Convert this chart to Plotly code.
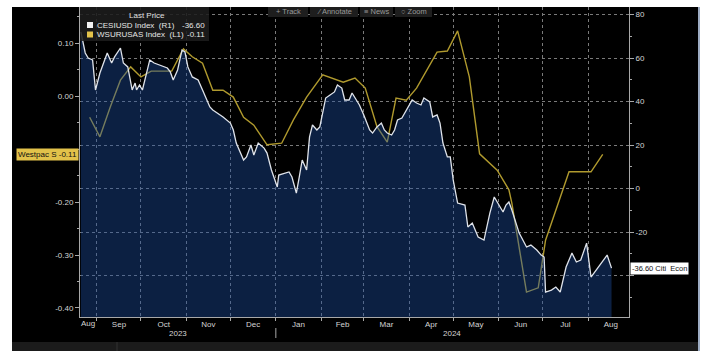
import plotly.graph_objects as go
import pandas as pd

# ---------------- data ----------------
cesi_dates = [
    "2023-08-21", "2023-08-24", "2023-08-26", "2023-08-29", "2023-08-31", "2023-09-03",
    "2023-09-08", "2023-09-11", "2023-09-13", "2023-09-17", "2023-09-19", "2023-09-22",
    "2023-09-25", "2023-09-27", "2023-09-28", "2023-09-30", "2023-10-02", "2023-10-07",
    "2023-10-10", "2023-10-14", "2023-10-19", "2023-10-21", "2023-10-23", "2023-10-26",
    "2023-10-29", "2023-10-31", "2023-11-02", "2023-11-05", "2023-11-09", "2023-11-12",
    "2023-11-15", "2023-11-17", "2023-11-19", "2023-11-22", "2023-11-26", "2023-12-01",
    "2023-12-03", "2023-12-05", "2023-12-08", "2023-12-10", "2023-12-12", "2023-12-15",
    "2023-12-17", "2023-12-20", "2023-12-24", "2023-12-26", "2023-12-29", "2024-01-02",
    "2024-01-03", "2024-01-07", "2024-01-10", "2024-01-12", "2024-01-15", "2024-01-17",
    "2024-01-19", "2024-01-22", "2024-01-24", "2024-01-26", "2024-01-29", "2024-01-31",
    "2024-02-04", "2024-02-07", "2024-02-10", "2024-02-12", "2024-02-15", "2024-02-17",
    "2024-02-20", "2024-02-22", "2024-02-25", "2024-02-27", "2024-03-01", "2024-03-05",
    "2024-03-07", "2024-03-10", "2024-03-13", "2024-03-15", "2024-03-17", "2024-03-20",
    "2024-03-22", "2024-03-24", "2024-03-27", "2024-03-31", "2024-04-03", "2024-04-06",
    "2024-04-09", "2024-04-11", "2024-04-15", "2024-04-17", "2024-04-20", "2024-04-22",
    "2024-04-24", "2024-04-27", "2024-04-29", "2024-05-01", "2024-05-04", "2024-05-09",
    "2024-05-11", "2024-05-14", "2024-05-18", "2024-05-22", "2024-05-26", "2024-05-29",
    "2024-06-02", "2024-06-04", "2024-06-06", "2024-06-08", "2024-06-10", "2024-06-15",
    "2024-06-20", "2024-06-23", "2024-06-27", "2024-06-30", "2024-07-02", "2024-07-03",
    "2024-07-07", "2024-07-10", "2024-07-13", "2024-07-17", "2024-07-21", "2024-07-24",
    "2024-07-27", "2024-07-31", "2024-08-03", "2024-08-07", "2024-08-11", "2024-08-14",
    "2024-08-17",
]
cesi_values = [
    72.0, 62.3, 60.0, 59.1, 45.3, 53.1,
    62.3, 57.7, 60.5, 64.6, 57.7, 55.9,
    45.3, 48.5, 45.3, 47.6, 45.3, 59.1,
    57.7, 56.8, 55.4, 53.6, 49.9, 54.5,
    63.7, 62.8, 55.9, 51.3, 49.9, 45.3,
    40.7, 37.5, 36.1, 34.7, 32.9, 30.1,
    26.9, 20.9, 16.3, 13.1, 14.5, 20.0,
    15.4, 20.9, 18.6, 16.3, 8.5, 0.7,
    6.2, 7.1, 7.6, 5.3, -2.1, 5.3,
    13.1, 8.5, 23.7, 29.2, 26.9, 28.3,
    41.6, 43.0, 44.4, 47.6, 46.2, 40.7,
    40.7, 43.9, 40.7, 38.4, 33.8, 26.9,
    25.5, 28.3, 30.1, 26.9, 25.5, 24.6,
    26.9, 31.5, 32.4, 37.5, 40.7, 39.3,
    38.4, 41.6, 39.8, 32.9, 33.8, 30.1,
    20.9, 14.5, 14.5, 3.9, -6.7, -7.6,
    -17.7, -15.9, -22.3, -23.7, -11.3, -3.9,
    -8.5, -10.8, -7.6, -6.2, -9.9, -20.5,
    -26.9, -26.0, -28.3, -30.6, -31.5, -47.6,
    -46.7, -45.3, -47.6, -36.1, -29.7, -33.8,
    -32.9, -25.1, -40.7, -37.0, -33.8, -30.6,
    -36.6,
]

wsur_dates = [
    "2023-08-27", "2023-09-03", "2023-09-10", "2023-09-17", "2023-09-24", "2023-10-01",
    "2023-10-08", "2023-10-22", "2023-10-30", "2023-11-05", "2023-11-12", "2023-11-19",
    "2023-11-26", "2023-12-03", "2023-12-10", "2023-12-17", "2023-12-26", "2024-01-05",
    "2024-01-13", "2024-01-22", "2024-02-02", "2024-02-12", "2024-02-16", "2024-02-24",
    "2024-03-02", "2024-03-10", "2024-03-17", "2024-03-23", "2024-03-30", "2024-04-06",
    "2024-04-20", "2024-04-27", "2024-05-04", "2024-05-12", "2024-05-19", "2024-05-31",
    "2024-06-08", "2024-06-10", "2024-06-20", "2024-06-28", "2024-07-03", "2024-07-19",
    "2024-08-03", "2024-08-11",
]
wsur_values = [
    -0.040, -0.077, -0.021, 0.030, 0.055, 0.036,
    0.047, 0.047, 0.089, 0.074, 0.062, 0.011,
    0.011, -0.002, -0.040, -0.055, -0.092, -0.089,
    -0.045, -0.002, 0.040, 0.030, 0.026, 0.034,
    0.015, -0.058, -0.087, -0.004, -0.008, 0.015,
    0.083, 0.085, 0.123, 0.036, -0.109, -0.140,
    -0.177, -0.202, -0.370, -0.362, -0.272, -0.143,
    -0.143, -0.110,
]

cesi_name = "CESIUSD Index"
wsur_name = "WSURUSAS Index"
cesi_tag = "Citi\u00a0\u00a0Econ"
wsur_tag = "Westpac S"

left_ticks = [0.10, 0.00, -0.10, -0.20, -0.30, -0.40]
left_labels = ["0.10", "0.00", "", "-0.20", "-0.30", "-0.40"]   # -0.10 sits under the tag
right_ticks = [80, 60, 40, 20, 0, -20, -40]
right_labels = ["80", "60", "40", "20", "0", "-20", ""]          # -40 sits under the tag

x_range = ["2023-08-20 10:00", "2024-08-28 22:00"]
left_range = [-0.417, 0.168]
right_range = [-59.08, 83.45]

# ---------------- styling ----------------
FONT = "Liberation Sans"
TXT = "#d4d4d4"
GRID = "#7a7a7a"
AXIS = "#a8a8a8"
YELLOW_LINE = "#b09a2e"
YELLOW_BOX = "#e2c24a"
NB = "\u00a0"

fig = go.Figure()

# baseline at the bottom of the right axis, so the area fill reaches the floor
fig.add_trace(go.Scatter(
    x=cesi_dates, y=[right_range[0]] * len(cesi_dates), yaxis="y2",
    mode="lines", line=dict(width=0, color="rgba(0,0,0,0)"),
    hoverinfo="skip", showlegend=False,
))
fig.add_trace(go.Scatter(
    x=cesi_dates, y=cesi_values, yaxis="y2", name=cesi_name,
    mode="lines", line=dict(color="#dfe3ea", width=1.3),
    fill="tonexty", fillcolor="rgba(30,80,165,0.40)", showlegend=False,
))
fig.add_trace(go.Scatter(
    x=wsur_dates, y=wsur_values, yaxis="y", name=wsur_name,
    mode="lines", line=dict(color=YELLOW_LINE, width=1.4), showlegend=False,
))

fig.update_layout(
    width=711, height=355,
    margin=dict(l=80, r=82, t=7, b=38),
    paper_bgcolor="white", plot_bgcolor="black",
    font=dict(family=FONT, size=8, color=TXT),
    showlegend=False,
    xaxis=dict(
        type="date", range=x_range, dtick="M1", tick0="2023-08-01",
        ticklabelmode="period", tickformat="%b", ticklabelstandoff=-4,
        showgrid=True, gridcolor=GRID, griddash="dot", gridwidth=1,
        ticks="outside", ticklen=3, tickcolor=AXIS,
        showline=True, linecolor=AXIS, linewidth=1,
        tickfont=dict(size=8, color=TXT), zeroline=False,
    ),
    yaxis=dict(
        range=left_range, tickmode="array", tickvals=left_ticks, ticktext=left_labels,
        side="left", showgrid=False, zeroline=False,
        ticks="outside", ticklen=4, tickcolor=AXIS,
        showline=True, linecolor=AXIS, linewidth=1,
        minor=dict(ticks="outside", dtick=0.05, tick0=0, ticklen=2, tickcolor=AXIS),
        tickfont=dict(size=8, color=TXT),
    ),
    yaxis2=dict(
        range=right_range, tickmode="array", tickvals=right_ticks, ticktext=right_labels,
        overlaying="y", side="right",
        showgrid=True, gridcolor=GRID, griddash="dot", gridwidth=1, zeroline=False,
        ticks="outside", ticklen=4, tickcolor=AXIS,
        showline=True, linecolor=AXIS, linewidth=1,
        minor=dict(ticks="outside", dtick=10, tick0=0, ticklen=2, tickcolor=AXIS),
        tickfont=dict(size=8, color=TXT),
    ),
)

def px_x(p):
    return (p - 80) / 549.0

def px_y(p):
    return (317 - p) / 310.0

shapes = []
# black terminal panel behind everything
shapes.append(dict(type="rect", xref="paper", yref="paper", layer="below",
                   x0=px_x(12), x1=px_x(698), y0=px_y(342), y1=px_y(7),
                   fillcolor="black", line=dict(width=0)))
# dark status band at the bottom
shapes.append(dict(type="rect", xref="paper", yref="paper", layer="below",
                   x0=px_x(12), x1=px_x(698), y0=px_y(351), y1=px_y(342),
                   fillcolor="#1b1b1b", line=dict(width=0)))
shapes.append(dict(type="line", xref="paper", yref="paper",
                   x0=px_x(117), x1=px_x(117), y0=px_y(351), y1=px_y(342),
                   line=dict(color="#333333", width=1)))
# right edge accent
shapes.append(dict(type="line", xref="paper", yref="paper",
                   x0=px_x(699), x1=px_x(699), y0=px_y(351), y1=px_y(7),
                   line=dict(color="#3c5a88", width=1)))
# year separator tick
shapes.append(dict(type="line", xref="x", yref="paper",
                   x0="2024-01-01", x1="2024-01-01", y0=px_y(328), y1=px_y(338),
                   line=dict(color=AXIS, width=1)))
# legend box
shapes.append(dict(type="rect", xref="paper", yref="paper",
                   x0=px_x(80), x1=px_x(209), y0=px_y(41), y1=px_y(7),
                   fillcolor="rgba(28,28,28,0.88)", line=dict(width=0)))
shapes.append(dict(type="rect", xref="paper", yref="paper",
                   x0=px_x(87), x1=px_x(93), y0=px_y(28), y1=px_y(22),
                   fillcolor="#f2f2f2", line=dict(width=0)))
shapes.append(dict(type="rect", xref="paper", yref="paper",
                   x0=px_x(87), x1=px_x(93), y0=px_y(37.5), y1=px_y(31.5),
                   fillcolor=YELLOW_BOX, line=dict(width=0)))
# toolbar buttons
for a, b in ((268, 308), (310, 358), (360, 393), (395, 432)):
    shapes.append(dict(type="rect", xref="paper", yref="paper",
                       x0=px_x(a), x1=px_x(b), y0=px_y(17), y1=px_y(7),
                       fillcolor="#1e1e1e", line=dict(width=0)))
fig.update_layout(shapes=shapes)

cesi_last = cesi_values[-1]
wsur_last = wsur_values[-1]

ann = []
# legend texts
ann.append(dict(xref="paper", yref="paper", x=px_x(147), y=px_y(15.5),
                text="Last Price", showarrow=False, xanchor="center", yanchor="middle",
                font=dict(size=8, color="#e0e0e0"), borderpad=0))
ann.append(dict(xref="paper", yref="paper", x=px_x(96), y=px_y(25),
                text=f"{cesi_name}{NB}{NB}(R1)", showarrow=False, xanchor="left", yanchor="middle",
                font=dict(size=8, color="#e6e6e6"), borderpad=0))
ann.append(dict(xref="paper", yref="paper", x=px_x(206), y=px_y(25),
                text=f"{cesi_last:.2f}", showarrow=False, xanchor="right", yanchor="middle",
                font=dict(size=8, color="#e6e6e6"), borderpad=0))
ann.append(dict(xref="paper", yref="paper", x=px_x(96), y=px_y(34.5),
                text=f"{wsur_name}{NB}{NB}(L1)", showarrow=False, xanchor="left", yanchor="middle",
                font=dict(size=8, color="#e6e6e6"), borderpad=0))
ann.append(dict(xref="paper", yref="paper", x=px_x(206), y=px_y(34.5),
                text=f"{wsur_last:.2f}", showarrow=False, xanchor="right", yanchor="middle",
                font=dict(size=8, color="#e6e6e6"), borderpad=0))
# toolbar labels
for cx, label in ((288, "+ Track"), (334, "⁄ Annotate"), (376.5, "≡ News"), (413.5, "○ Zoom")):
    ann.append(dict(xref="paper", yref="paper", x=px_x(cx), y=px_y(12),
                    text=label, showarrow=False, xanchor="center", yanchor="middle",
                    font=dict(size=7.5, color="#9a9a9a")))
# last value tags
ann.append(dict(xref="paper", yref="y", x=px_x(79), y=wsur_last,
                text=f"{wsur_tag} {wsur_last:.2f}", showarrow=False,
                xanchor="right", yanchor="middle", bgcolor=YELLOW_BOX, borderpad=1,
                font=dict(size=8, color="#111111")))
ann.append(dict(xref="paper", yref="y2", x=px_x(630), y=cesi_last,
                text=f"{cesi_last:.2f} {cesi_tag}", showarrow=False,
                xanchor="left", yanchor="middle", bgcolor="white", borderpad=1,
                font=dict(size=7.5, color="#111111")))

t0 = pd.Timestamp(x_range[0])
t1 = pd.Timestamp(x_range[1])
# first (partial) month label, centred on its visible part
m_end = (t0 + pd.offsets.MonthBegin(1)).normalize()
ann.append(dict(xref="x", yref="paper", x=t0 + (m_end - t0) / 2, y=px_y(324),
                text=t0.strftime("%b"), showarrow=False, xanchor="center", yanchor="middle",
                font=dict(size=8, color=TXT)))
# year labels centred on the visible part of each year
for yr in (2023, 2024):
    a = max(t0, pd.Timestamp(f"{yr}-01-01"))
    b = min(t1, pd.Timestamp(f"{yr + 1}-01-01"))
    mid = a + (b - a) / 2
    ann.append(dict(xref="x", yref="paper", x=mid, y=px_y(333),
                    text=str(yr), showarrow=False, xanchor="center", yanchor="middle",
                    font=dict(size=8, color=TXT)))
fig.update_layout(annotations=ann)

fig.write_html("out.html", config={"displayModeBar": False},
               post_script="document.body.style.margin='0';document.body.style.overflow='hidden';")
